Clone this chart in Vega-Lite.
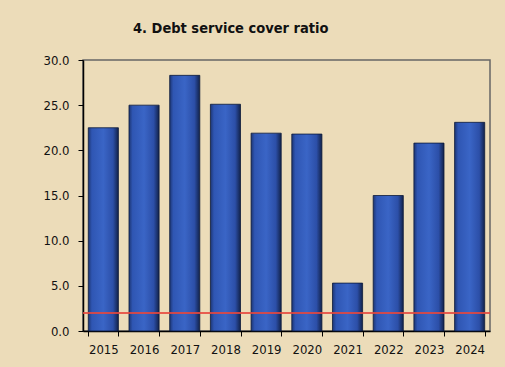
{
  "$schema": "https://vega.github.io/schema/vega-lite/v6.json",
  "autosize": "none",
  "width": 407,
  "height": 271,
  "padding": {"left": 83, "top": 60, "right": 15, "bottom": 36},
  "background": "#ecdcb9",
  "config": {
    "view": {"stroke": "#666666", "strokeWidth": 1.5},
    "font": "DejaVu Sans Condensed"
  },
  "title": {
    "text": "4. Debt service cover ratio",
    "font": "DejaVu Sans Condensed",
    "fontSize": 14.5,
    "fontWeight": "bold",
    "color": "#111111",
    "anchor": "start",
    "frame": "group",
    "offset": 18,
    "dx": 50
  },
  "data": {
    "values": [
      {"year": "2015", "dscr": 22.5},
      {"year": "2016", "dscr": 25.0},
      {"year": "2017", "dscr": 28.3},
      {"year": "2018", "dscr": 25.1},
      {"year": "2019", "dscr": 21.9},
      {"year": "2020", "dscr": 21.8},
      {"year": "2021", "dscr": 5.3},
      {"year": "2022", "dscr": 15.0},
      {"year": "2023", "dscr": 20.8},
      {"year": "2024", "dscr": 23.1}
    ]
  },
  "layer": [
    {
      "mark": {
        "type": "bar",
        "stroke": "#0d1a3a",
        "strokeWidth": 0.8,
        "color": {
          "x1": 0, "x2": 1, "y1": 0, "y2": 0,
          "gradient": "linear",
          "stops": [
            {"offset": 0, "color": "#1d3675"},
            {"offset": 0.12, "color": "#2f56b3"},
            {"offset": 0.5, "color": "#3a65c6"},
            {"offset": 0.82, "color": "#2c4fa8"},
            {"offset": 1, "color": "#12224a"}
          ]
        }
      },
      "encoding": {
        "x": {
          "field": "year",
          "type": "ordinal",
          "scale": {"paddingInner": 0.26, "paddingOuter": 0.13},
          "axis": {
            "title": null,
            "labelAngle": 0,
            "labelFont": "DejaVu Sans Condensed",
            "labelFontSize": 13,
            "labelColor": "#111111",
            "labelPadding": 7,
            "domainColor": "#000000",
            "domainWidth": 1.5,
            "tickColor": "#000000",
            "tickBand": "extent",
            "tickSize": 5
          }
        },
        "y": {
          "field": "dscr",
          "type": "quantitative",
          "scale": {"domain": [0, 30], "nice": false},
          "axis": {
            "title": null,
            "values": [0, 5, 10, 15, 20, 25, 30],
            "format": ".1f",
            "grid": false,
            "labelFont": "DejaVu Sans Condensed",
            "labelFontSize": 13,
            "labelColor": "#111111",
            "labelPadding": 9,
            "domainColor": "#000000",
            "domainWidth": 1.5,
            "tickColor": "#000000",
            "tickSize": 5
          }
        }
      }
    },
    {
      "data": {"values": [{"threshold": 2.0}]},
      "mark": {"type": "rule", "color": "#e8463c", "strokeWidth": 2, "opacity": 0.85},
      "encoding": {
        "y": {"field": "threshold", "type": "quantitative"}
      }
    }
  ]
}
